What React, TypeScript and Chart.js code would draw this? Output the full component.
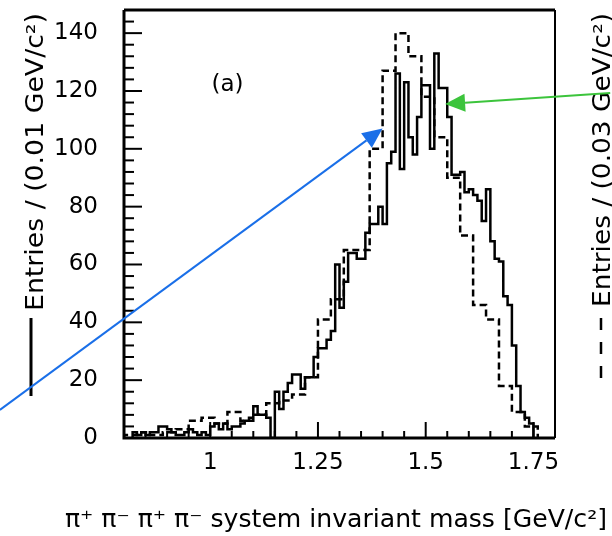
import React, { useEffect, useRef } from "react";
import { Chart, registerables } from "chart.js";

Chart.register(...registerables);

// ---- data ----
const solidStart = 0.82; // GeV, left edge of first 0.01 GeV bin
const solidWidth = 0.01;
const solidCounts = [
  2, 1, 2, 1, 2, 2, 4, 4, 3, 2, // 0.82 - 0.91
  1, 1, 2, 3, 2, 1, 2, 1, 4, 5, // 0.92 - 1.01
  3, 5, 3, 4, 4, 5, 6, 7, 11, 8, // 1.02 - 1.11
  8, 7, 0, 16, 10, 16, 19, 22, 22, 17, // 1.12 - 1.21
  21, 21, 28, 31, 31, 34, 37, 60, 45, 54, // 1.22 - 1.31
  64, 64, 62, 62, 71, 74, 74, 80, 74, 95, // 1.32 - 1.41
  99, 126, 93, 123, 104, 98, 111, 122, 122, 100, // 1.42 - 1.51
  133, 121, 121, 111, 91, 91, 92, 85, 86, 84, // 1.52 - 1.61
  82, 75, 86, 68, 62, 61, 49, 46, 32, 18, // 1.62 - 1.71
  9, 7, 5, // 1.72 - 1.74
];

const dashedStart = 0.8; // GeV, left edge of first 0.03 GeV bin
const dashedWidth = 0.03;
const dashedCounts = [
  1, 2, 1, 2, 3, 6, 7, 5, 9, 6, 8, 12, 13, 15, 21, 41, 48, 65, 65, 100, 127,
  140, 132, 118, 104, 90, 70, 46, 41, 18, 9, 4,
];

const xTickLabels = [1, 1.25, 1.5, 1.75];
const yTickLabels = [0, 20, 40, 60, 80, 100, 120, 140];
const xRange = [0.8, 1.8];
const yRange = [0, 148];
const xMinorStep = 0.05;
const yMinorStep = 4;

const panelLabel = { text: "(a)", x: 1.04, y: 122 };
// arrows in data coordinates: tail -> tip
const arrows = [
  { from: { x: 0.512, y: 9.7 }, to: { x: 1.4, y: 107 }, color: "#1a6fe8" },
  { from: { x: 1.928, y: 119.3 }, to: { x: 1.545, y: 115.5 }, color: "#3cc43c" },
];

const leftTitle = "Entries / (0.01 GeV/c\u00B2)";
const rightTitle = "Entries / (0.03 GeV/c\u00B2)";
const xTitle = "\u03C0\u207A \u03C0\u207B \u03C0\u207A \u03C0\u207B system invariant mass [GeV/c\u00B2]";

const FONT = "DejaVu Sans";

function histPoints(start: number, width: number, counts: number[]) {
  const pts: { x: number; y: number }[] = [{ x: start, y: 0 }];
  counts.forEach((c, i) => pts.push({ x: start + i * width, y: c }));
  pts.push({ x: start + counts.length * width, y: 0 });
  return pts;
}

function drawRotated(
  ctx: CanvasRenderingContext2D,
  text: string,
  baselineX: number,
  centerY: number,
  targetLen: number,
  font: string
) {
  ctx.save();
  ctx.font = font;
  const w = ctx.measureText(text).width;
  ctx.translate(baselineX, centerY);
  ctx.rotate(-Math.PI / 2);
  ctx.scale(targetLen / w, 1);
  ctx.textAlign = "center";
  ctx.textBaseline = "alphabetic";
  ctx.fillStyle = "#000";
  ctx.fillText(text, 0, 0);
  ctx.restore();
}

function drawArrow(
  ctx: CanvasRenderingContext2D,
  tx: number,
  ty: number,
  hx: number,
  hy: number,
  color: string
) {
  const ang = Math.atan2(hy - ty, hx - tx);
  const L = 20;
  const W = 9;
  const bx = hx - L * Math.cos(ang);
  const by = hy - L * Math.sin(ang);
  ctx.save();
  ctx.strokeStyle = color;
  ctx.fillStyle = color;
  ctx.lineWidth = 2;
  ctx.beginPath();
  ctx.moveTo(tx, ty);
  ctx.lineTo(bx, by);
  ctx.stroke();
  ctx.beginPath();
  ctx.moveTo(hx, hy);
  ctx.lineTo(bx + W * Math.sin(ang), by - W * Math.cos(ang));
  ctx.lineTo(bx - W * Math.sin(ang), by + W * Math.cos(ang));
  ctx.closePath();
  ctx.fill();
  ctx.restore();
}

const decorPlugin = {
  id: "decor",
  afterDraw(chart: any) {
    const { ctx, chartArea: a } = chart;
    const xs = chart.scales.x;
    const ys = chart.scales.y;
    ctx.save();
    ctx.strokeStyle = "#000";
    ctx.lineCap = "butt";

    // inward x ticks
    ctx.lineWidth = 2;
    const nx = Math.round((xRange[1] - xRange[0]) / xMinorStep);
    for (let k = 1; k < nx; k++) {
      const v = xRange[0] + k * xMinorStep;
      const major = xTickLabels.some((t) => Math.abs(t - v) < 1e-6);
      const px = xs.getPixelForValue(v);
      ctx.beginPath();
      ctx.moveTo(px, a.bottom);
      ctx.lineTo(px, a.bottom - (major ? 16 : 7));
      ctx.stroke();
    }
    // inward y ticks
    const ny = Math.floor((yRange[1] - yRange[0]) / yMinorStep);
    for (let k = 1; k <= ny; k++) {
      const v = yRange[0] + k * yMinorStep;
      const major = yTickLabels.some((t) => Math.abs(t - v) < 1e-6);
      const py = ys.getPixelForValue(v);
      ctx.beginPath();
      ctx.moveTo(a.left, py);
      ctx.lineTo(a.left + (major ? 18 : 10), py);
      ctx.stroke();
    }

    // frame
    ctx.lineWidth = 3;
    ctx.beginPath();
    ctx.moveTo(a.left, a.top);
    ctx.lineTo(a.right, a.top);
    ctx.moveTo(a.left, a.top);
    ctx.lineTo(a.left, a.bottom);
    ctx.lineTo(a.right, a.bottom);
    ctx.stroke();
    ctx.lineWidth = 2;
    ctx.beginPath();
    ctx.moveTo(a.right, a.top);
    ctx.lineTo(a.right, a.bottom);
    ctx.stroke();

    // panel label
    ctx.fillStyle = "#000";
    ctx.font = `23px "${FONT}"`;
    ctx.textAlign = "center";
    ctx.textBaseline = "middle";
    ctx.fillText(
      panelLabel.text,
      xs.getPixelForValue(panelLabel.x),
      ys.getPixelForValue(panelLabel.y)
    );

    // axis titles
    drawRotated(ctx, leftTitle, 43, 162, 298, `24px "${FONT}"`);
    drawRotated(ctx, rightTitle, 610, 160, 294, `24px "${FONT}"`);

    ctx.save();
    ctx.font = `24px "${FONT}"`;
    const w = ctx.measureText(xTitle).width;
    ctx.translate(336, 527);
    ctx.scale(542 / w, 1);
    ctx.textAlign = "center";
    ctx.textBaseline = "alphabetic";
    ctx.fillText(xTitle, 0, 0);
    ctx.restore();

    // legend samples
    ctx.lineWidth = 3;
    ctx.beginPath();
    ctx.moveTo(31, 318);
    ctx.lineTo(31, 396);
    ctx.stroke();
    ctx.lineWidth = 2.5;
    ctx.setLineDash([12, 12]);
    ctx.beginPath();
    ctx.moveTo(601, 318);
    ctx.lineTo(601, 378);
    ctx.stroke();
    ctx.setLineDash([]);

    // arrows
    arrows.forEach((ar) => {
      drawArrow(
        ctx,
        xs.getPixelForValue(ar.from.x),
        ys.getPixelForValue(ar.from.y),
        xs.getPixelForValue(ar.to.x),
        ys.getPixelForValue(ar.to.y),
        ar.color
      );
    });
    ctx.restore();
  },
};

export default function App() {
  const ref = useRef<HTMLCanvasElement | null>(null);
  useEffect(() => {
    if (!ref.current) return;
    const chart = new Chart(ref.current, {
      type: "line",
      data: {
        datasets: [
          {
            label: "0.01 GeV bins",
            data: histPoints(solidStart, solidWidth, solidCounts),
            stepped: true,
            borderColor: "#000",
            borderWidth: 2.5,
            pointRadius: 0,
            fill: false,
          },
          {
            label: "0.03 GeV bins",
            data: histPoints(dashedStart, dashedWidth, dashedCounts),
            stepped: true,
            borderColor: "#000",
            borderWidth: 2.5,
            borderDash: [7, 4],
            pointRadius: 0,
            fill: false,
          },
        ],
      },
      options: {
        animation: false,
        responsive: false,
        maintainAspectRatio: false,
        layout: { padding: { top: 10, right: 57, left: 0, bottom: 0 } },
        plugins: {
          legend: { display: false },
          tooltip: { enabled: false },
          title: { display: false },
        },
        scales: {
          x: {
            type: "linear",
            min: xRange[0],
            max: xRange[1],
            grid: { display: false, drawTicks: false },
            border: { display: false },
            ticks: {
              color: "#000",
              font: { family: FONT, size: 23 },
              padding: 11,
              maxRotation: 0,
              autoSkip: false,
              callback: (v: any) => String(v),
            },
            afterBuildTicks: (s: any) => {
              s.ticks = xTickLabels.map((v) => ({ value: v }));
            },
            afterFit: (s: any) => {
              s.height = 98;
              s.paddingLeft = 0;
              s.paddingRight = 0;
            },
          },
          y: {
            type: "linear",
            min: yRange[0],
            max: yRange[1],
            grid: { display: false, drawTicks: false },
            border: { display: false },
            ticks: {
              color: "#000",
              font: { family: FONT, size: 23 },
              padding: 26,
              autoSkip: false,
              callback: (v: any) => String(v),
            },
            afterBuildTicks: (s: any) => {
              s.ticks = yTickLabels.map((v) => ({ value: v }));
            },
            afterFit: (s: any) => {
              s.width = 124;
              s.paddingTop = 0;
              s.paddingBottom = 0;
            },
          },
        },
      },
      plugins: [decorPlugin],
    } as any);
    return () => chart.destroy();
  }, []);
  return (
    <div style={{ position: "fixed", left: 0, top: 0, width: 612, height: 536, background: "#fff" }}>
      <canvas ref={ref} width={612} height={536} style={{ width: 612, height: 536, display: "block" }} />
    </div>
  );
}
